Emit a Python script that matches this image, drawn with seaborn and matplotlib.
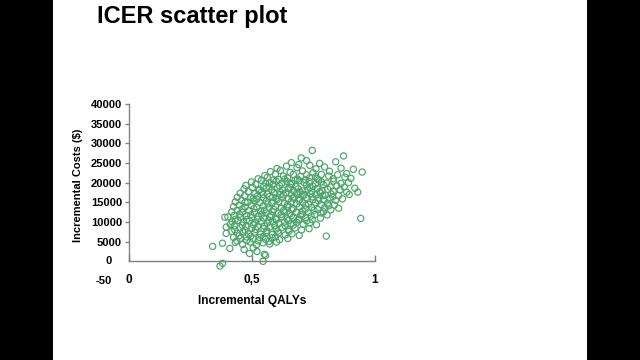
import matplotlib
matplotlib.use("Agg")
import matplotlib.pyplot as plt
import matplotlib.patches as mpatches
import matplotlib.transforms as mtransforms
import seaborn as sns
import pandas as pd

# Incremental QALYs / incremental costs ($), row by row
qaly = [
    0.745, 0.872, 0.700,
    0.660, 0.722, 0.775, 0.840, 0.690,
    0.602, 0.640, 0.683, 0.735, 0.760, 0.795, 0.862, 0.912, 0.948,
    0.575, 0.615, 0.655, 0.705, 0.748, 0.815, 0.885,
    0.552, 0.595, 0.628, 0.668, 0.698, 0.722, 0.758, 0.782, 0.812, 0.848, 0.878,
    0.525, 0.562, 0.608, 0.645, 0.685, 0.735, 0.770, 0.830, 0.902,
    0.498, 0.538, 0.572, 0.598, 0.622, 0.642, 0.662, 0.692, 0.712, 0.732, 0.758, 0.782, 0.802, 0.832, 0.862, 0.892,
    0.475, 0.515, 0.548, 0.585, 0.612, 0.655, 0.678, 0.722, 0.748, 0.790, 0.845, 0.875, 0.918,
    0.468, 0.502, 0.530, 0.558, 0.580, 0.602, 0.625, 0.648, 0.668, 0.688, 0.705, 0.728, 0.742, 0.765, 0.785, 0.808, 0.830, 0.858, 0.885,
    0.452, 0.485, 0.512, 0.538, 0.562, 0.590, 0.615, 0.638, 0.660, 0.682, 0.712, 0.738, 0.758, 0.778, 0.798, 0.822, 0.852, 0.895, 0.930,
    0.440, 0.470, 0.495, 0.522, 0.548, 0.572, 0.598, 0.622, 0.648, 0.672, 0.695, 0.720, 0.748, 0.770, 0.792, 0.815, 0.840, 0.868,
    0.432, 0.458, 0.482, 0.508, 0.532, 0.558, 0.582, 0.608, 0.632, 0.658, 0.682, 0.705, 0.730, 0.758, 0.782, 0.808, 0.835,
    0.425, 0.448, 0.472, 0.498, 0.520, 0.545, 0.570, 0.595, 0.620, 0.645, 0.668, 0.692, 0.718, 0.742, 0.768, 0.795, 0.820, 0.852,
    0.418, 0.440, 0.462, 0.488, 0.510, 0.535, 0.558, 0.582, 0.608, 0.632, 0.655, 0.680, 0.705, 0.730, 0.755, 0.780, 0.805,
    0.402, 0.428, 0.452, 0.478, 0.500, 0.525, 0.548, 0.572, 0.595, 0.620, 0.642, 0.668, 0.692, 0.718, 0.745, 0.778, 0.942,
    0.390, 0.420, 0.442, 0.465, 0.490, 0.512, 0.538, 0.562, 0.585, 0.610, 0.632, 0.658, 0.682, 0.708, 0.735, 0.762,
    0.395, 0.428, 0.452, 0.475, 0.500, 0.522, 0.548, 0.572, 0.598, 0.622, 0.648, 0.675, 0.702, 0.732,
    0.395, 0.418, 0.440, 0.462, 0.485, 0.510, 0.535, 0.558, 0.582, 0.608, 0.635, 0.662, 0.692,
    0.425, 0.452, 0.478, 0.505, 0.530, 0.555, 0.582, 0.612, 0.645, 0.802,
    0.340, 0.380, 0.410, 0.432, 0.462, 0.492, 0.518, 0.545, 0.572, 0.600,
    0.490, 0.520, 0.550, 0.468, 0.505,
    0.555, 0.545, 0.380, 0.370,
    # second, overlapping layer in the dense core
    0.555, 0.588, 0.632, 0.675, 0.718, 0.765,
    0.528, 0.570, 0.612, 0.655, 0.695, 0.735, 0.775, 0.818,
    0.505, 0.545, 0.585, 0.628, 0.665, 0.708, 0.745, 0.788, 0.828,
    0.472, 0.520, 0.565, 0.602, 0.645, 0.690, 0.718, 0.770, 0.812,
    0.460, 0.508, 0.550, 0.588, 0.628, 0.662, 0.705, 0.752, 0.790,
    0.450, 0.495, 0.540, 0.578, 0.618, 0.660, 0.698, 0.740,
    0.432, 0.478, 0.522, 0.568, 0.600, 0.648, 0.688, 0.722,
    0.412, 0.460, 0.505, 0.550, 0.592, 0.635, 0.668,
    0.430, 0.472, 0.515, 0.560, 0.605, 0.650,
    0.448, 0.495, 0.545, 0.595,
    0.438, 0.478, 0.525, 0.570,
]
cost = [
    28200, 26800, 26300,
    25100, 25600, 24900, 25300, 24600,
    23600, 24200, 23800, 24400, 23500, 24000, 23700, 23400, 22700,
    22800, 23100, 22600, 23000, 22500, 22900, 22300,
    21800, 22200, 21700, 22100, 21600, 22000, 21500, 22100, 21700, 22000, 21400,
    21000, 21300, 20800, 21200, 20900, 21300, 20700, 21000, 21100,
    20200, 20600, 20000, 20400, 19900, 20300, 19800, 20500, 20000, 20300, 19700, 20200, 19900, 20400, 19800, 20000,
    19300, 19600, 19100, 19500, 19200, 19600, 19000, 19400, 19100, 19500, 19200, 18900, 18600,
    18400, 18800, 18300, 18700, 18200, 18600, 18100, 18500, 18000, 18400, 17900, 18300, 17800, 18500, 17900, 18300, 17800, 18200, 17600,
    17300, 17700, 17200, 17600, 17100, 17500, 17000, 17400, 16900, 17300, 16800, 17200, 16900, 17400, 16800, 17100, 16700, 17000, 17600,
    16300, 16700, 16200, 16600, 16100, 16500, 16000, 16400, 15900, 16300, 15800, 16200, 15700, 16100, 15600, 16000, 15500, 15900,
    15100, 15500, 15000, 15400, 14900, 15300, 14800, 15200, 14700, 15100, 14600, 15000, 14500, 14900, 14400, 14800, 14300,
    13900, 14300, 13800, 14200, 13700, 14100, 13600, 14000, 13500, 13900, 13400, 13800, 13300, 13700, 13200, 13600, 13100, 13500,
    12600, 13000, 12500, 12900, 12400, 12800, 12300, 12700, 12200, 12600, 12100, 12500, 12000, 12400, 11900, 12300, 11800,
    11300, 11700, 11200, 11600, 11100, 11500, 11000, 11400, 10900, 11300, 10800, 11200, 10700, 11100, 10600, 11000, 10900,
    11200, 10000, 10400, 9900, 10300, 9800, 10200, 9700, 10100, 9600, 10000, 9500, 9900, 9400, 9800, 9300,
    8700, 9000, 8500, 8900, 8400, 8800, 8300, 8700, 8200, 8600, 8100, 8500, 8000, 8300,
    7100, 7600, 7200, 7500, 7000, 7400, 6900, 7300, 6800, 7200, 6700, 7000, 6600,
    6100, 5800, 6200, 5700, 6100, 5600, 6000, 5500, 5800, 6400,
    3800, 4600, 3300, 4800, 4300, 4900, 4200, 4700, 4400, 4900,
    2000, 2500, 1800, 3000, 3400,
    1500, 0, -500, -1200,
    19900, 20700, 20900, 20600, 20700, 21000,
    18000, 18900, 17800, 18800, 17600, 18700, 17700, 18900,
    16000, 17000, 16300, 16900, 16100, 17000, 16400, 16700, 16400,
    15000, 15800, 14600, 15700, 14400, 15500, 14300, 15400, 14100,
    13300, 13400, 13000, 13200, 12900, 13100, 12800, 13000, 12600,
    12000, 11800, 12000, 11700, 11900, 11600, 11800, 11500,
    10700, 10600, 10700, 10500, 10600, 10400, 10500, 10300,
    9400, 9200, 9300, 9000, 9100, 9000, 9200,
    8000, 7900, 8100, 7800, 7700, 7600,
    6500, 6400, 6300, 6200,
    5200, 5300, 5200, 5100,
]

y_ticks = [5000, 10000, 15000, 20000, 25000, 30000, 35000, 40000]
x_ticks = [0, 0.5, 1]
x_tick_labels = ["0", "0,5", "1"]

df = pd.DataFrame({"qaly": qaly, "cost": cost})

sns.set_style("white")
plt.rcParams["font.family"] = ["Liberation Sans", "DejaVu Sans"]
plt.rcParams["font.weight"] = "bold"
for key in ["text.color", "axes.labelcolor", "xtick.labelcolor", "ytick.labelcolor"]:
    plt.rcParams[key] = "black"

fig = plt.figure(figsize=(6.4, 3.6), dpi=100)
ax = fig.add_axes([129 / 640, 79 / 360, 246 / 640, 177 / 360])

sns.scatterplot(data=df, x="qaly", y="cost", ax=ax, marker="o", s=20,
                facecolor="none", edgecolor="#4aa468", linewidth=0.85)

ax.set_xlim(0, 1.0)
ax.set_ylim(-5000, 40000)

grey = "#808080"
for side in ["top", "right"]:
    ax.spines[side].set_visible(False)
ax.spines["bottom"].set_position(("data", 0))
ax.spines["bottom"].set_bounds(0, 1)
ax.spines["left"].set_bounds(0, 40000)
for side in ["bottom", "left"]:
    ax.spines[side].set_color(grey)
    ax.spines[side].set_linewidth(1)

ax.set_yticks(y_ticks)
ax.set_yticklabels([str(v) for v in y_ticks])
ax.set_xticks(x_ticks)
ax.set_xticklabels(x_tick_labels)
ax.tick_params(axis="y", direction="out", length=3, width=1, color=grey,
               pad=2, labelsize=8, left=True)
ax.tick_params(axis="x", direction="in", length=4, width=1, color=grey,
               pad=9, labelsize=8.5, bottom=True)
for lbl in ax.get_xticklabels() + ax.get_yticklabels():
    lbl.set_fontweight("bold")

# the "0" and "-50" labels sit apart from the other cost labels
trans = mtransforms.blended_transform_factory(ax.transAxes, ax.transData)
ax.text(-0.07, 0, "0", transform=trans, ha="right", va="center",
        fontsize=8, fontweight="bold")
ax.text(-0.07, -5000, "-50", transform=trans, ha="right", va="center",
        fontsize=8, fontweight="bold")

ax.set_xlabel("Incremental QALYs", fontsize=8.6, fontweight="bold")
ax.set_ylabel("Incremental Costs ($)", fontsize=8, fontweight="bold")
ax.xaxis.set_label_coords(0.5, -0.08)
ax.yaxis.set_label_coords(-0.187, 0.54)

fig.text(97 / 640, 1 - 23 / 360, "ICER scatter plot", fontsize=17,
         fontweight="bold", ha="left", va="baseline")

# black side bars of the video frame
fig.patches.append(mpatches.Rectangle((0, 0), 53 / 640, 1, transform=fig.transFigure,
                                      facecolor="black", edgecolor="none", zorder=-1))
fig.patches.append(mpatches.Rectangle((587 / 640, 0), 53 / 640, 1, transform=fig.transFigure,
                                      facecolor="black", edgecolor="none", zorder=-1))

fig.savefig("out.png", dpi=100)
plt.close(fig)
